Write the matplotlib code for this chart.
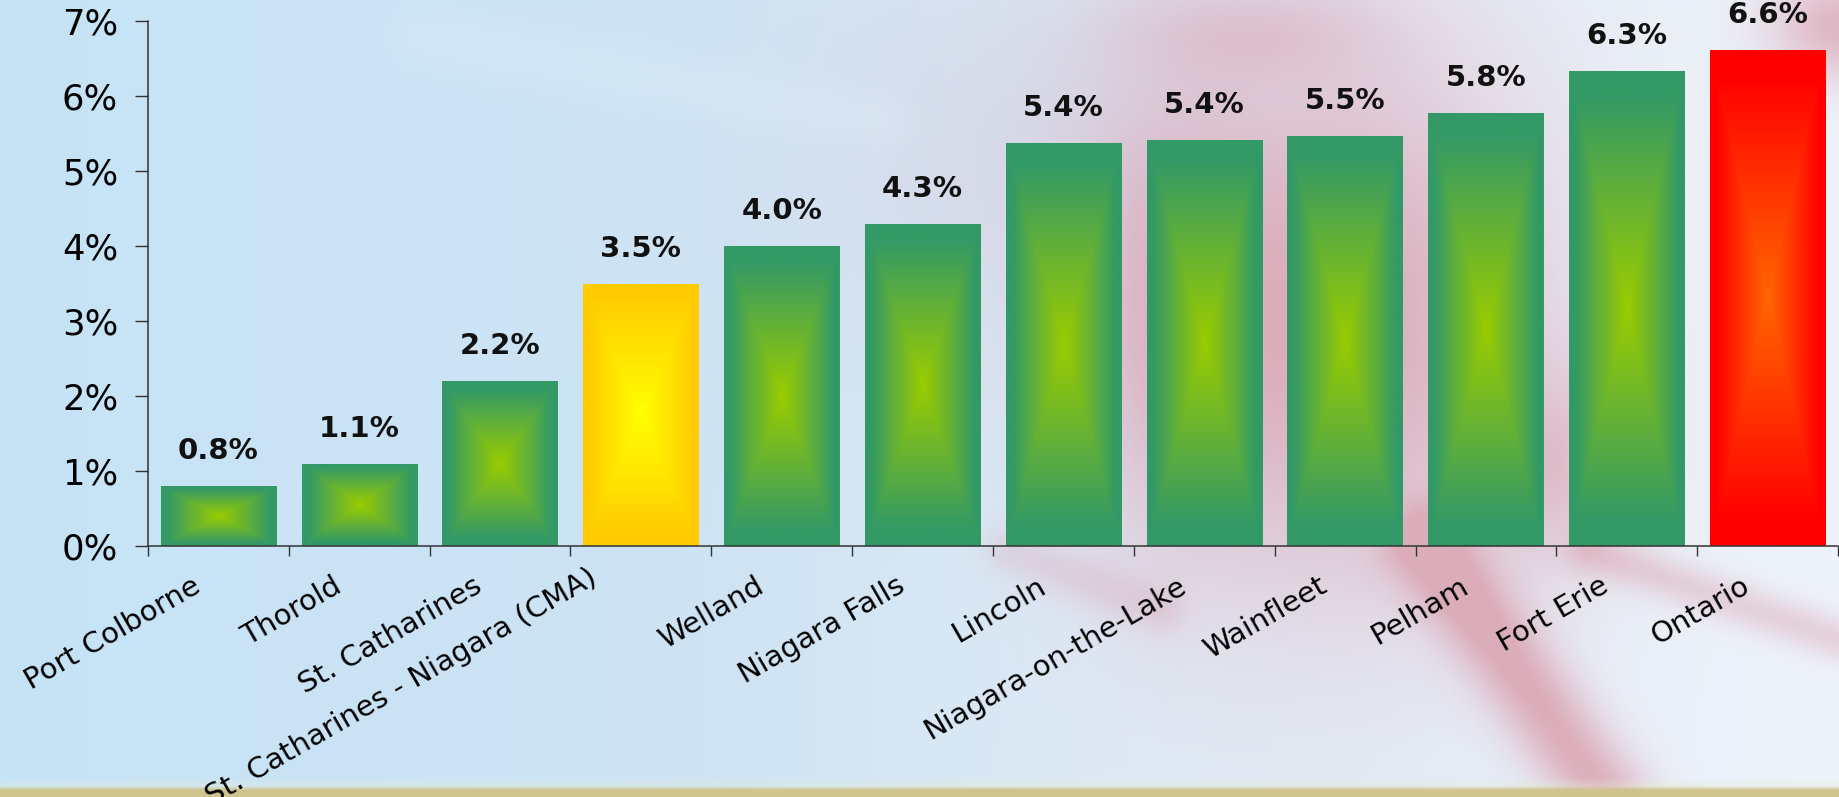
import numpy as np
import matplotlib
matplotlib.use("Agg")
import matplotlib.pyplot as plt
from matplotlib.colors import to_rgb
from matplotlib.transforms import ScaledTranslation

# ── Data ──────────────────────────────────────────────────────────────────────

regions = [
    "Port Colborne", "Thorold", "St. Catharines",
    "St. Catharines - Niagara (CMA)", "Welland", "Niagara Falls",
    "Lincoln", "Niagara-on-the-Lake", "Wainfleet", "Pelham",
    "Fort Erie", "Ontario",
]
growth_pct = [0.8, 1.1, 2.2, 3.5, 4.0, 4.3, 5.37, 5.42, 5.47, 5.78, 6.34, 6.61]
bar_kind = ["local"] * 3 + ["cma"] + ["local"] * 7 + ["province"]
y_ticks = [0, 1, 2, 3, 4, 5, 6, 7]

# centre colour, edge colour of the rectangular "from centre" fill
GRADIENTS = {
    "local":    ("#99cc00", "#339966"),
    "cma":      ("#ffff00", "#ffcc00"),
    "province": ("#ff6600", "#ff0000"),
}

W, H = 1840, 797
plt.rcParams["font.family"] = ["DejaVu Sans"]


# ── Helpers ───────────────────────────────────────────────────────────────────

def rect_gradient(c_in, c_out, n=240):
    u = np.linspace(-1, 1, n)
    U, V = np.meshgrid(u, u)
    t = np.clip(np.maximum(np.abs(U), np.abs(V)) / 0.9, 0, 1)[..., None]
    return np.array(to_rgb(c_in)) * (1 - t) + np.array(to_rgb(c_out)) * t


def background(h=400, w=920):
    X, Y = np.meshgrid(np.linspace(0, W, w), np.linspace(0, H, h))
    sx = [0, 700, 1150, 1840]
    sc = [to_rgb(c) for c in ("#c6e4f7", "#cee3f3", "#e0ebf6", "#eef3f9")]
    img = np.stack([np.interp(X, sx, [c[k] for c in sc]) for k in range(3)], -1)

    def seg(x0, y0, x1, y1, wd):
        dx, dy = x1 - x0, y1 - y0
        s = np.clip(((X - x0) * dx + (Y - y0) * dy) / (dx * dx + dy * dy), 0, 1)
        d = np.hypot(X - (x0 + s * dx), Y - (y0 + s * dy))
        return np.exp(-(d / wd) ** 2)

    def blob(cx, cy, rx, ry):
        return np.exp(-(((X - cx) / rx) ** 2 + ((Y - cy) / ry) ** 2))

    def mix(img, m, col):
        m = np.clip(m, 0, 0.95)[..., None]
        return img * (1 - m) + np.array(to_rgb(col)) * m

    # faint lavender haze and light streak top-middle
    img = mix(img, 0.6 * blob(1020, 150, 230, 200), "#d4d3e3")
    img = mix(img, 0.3 * seg(420, 35, 880, 120, 30), "#e2eff9")
    # maple-leaf shapes (washed out red)
    leaf = (0.95 * blob(1340, 320, 200, 270)
            + 0.45 * blob(1160, 300, 90, 230)
            + 0.35 * blob(1250, 30, 130, 50)
            + 0.8 * blob(1840, 25, 70, 55)
            + 0.5 * blob(1560, 470, 70, 100)
            + 0.9 * seg(1430, 548, 1605, 797, 42)
            + 0.45 * seg(1590, 552, 1840, 640, 22)
            + 0.3 * seg(1010, 552, 1160, 610, 25))
    img = mix(img, leaf, "#dba9b7")
    # tan strip along the bottom edge
    img = mix(img, np.clip((Y - 778) / 8, 0, 1) * 0.35, "#e2ecd8")
    img = mix(img, np.clip((Y - 787) / 4, 0, 1) * 0.95, "#cfc389")
    return img


# ── Figure ────────────────────────────────────────────────────────────────────

fig = plt.figure(figsize=(W / 100, H / 100), dpi=100)

bg = fig.add_axes([0, 0, 1, 1], zorder=0)
bg.imshow(background(), extent=[0, 1, 0, 1], aspect="auto", interpolation="bilinear")
bg.axis("off")

ax = fig.add_axes([148 / W, 1 - 546 / H, (1838 - 148) / W, (546 - 21) / H], zorder=1)
ax.patch.set_alpha(0)

x = np.arange(len(regions))
bars = ax.bar(x, growth_pct, width=0.82, color="none", linewidth=0, zorder=2)
for rect, kind in zip(bars, bar_kind):
    x0, y0 = rect.get_x(), rect.get_y()
    im = ax.imshow(rect_gradient(*GRADIENTS[kind]),
                   extent=(x0, x0 + rect.get_width(), y0, y0 + rect.get_height()),
                   aspect="auto", interpolation="bilinear", zorder=2)
    im.set_clip_path(rect)

ax.bar_label(bars, labels=[f"{v:.1f}%" for v in growth_pct], padding=15,
             fontsize=21, fontweight="bold", color="#111111")

ax.set_xlim(-0.5, len(regions) - 0.5)
ax.set_ylim(0, 7)
ax.set_yticks(y_ticks)
ax.set_yticklabels([f"{t}%" for t in y_ticks])
ax.tick_params(axis="y", length=9.5, width=1, pad=12, labelsize=25.5, color="#333333")

# tick marks between categories, labels drawn under the category centres
ax.set_xticks(np.arange(-0.5, len(regions), 1))
ax.set_xticklabels([])
ax.tick_params(axis="x", length=7, width=1, color="#333333")
for xi, name in zip(x, regions):
    # the very long label is nudged up-left, as in the original layout
    long_name = len(name) > 20
    dx = -0.46 if long_name else -0.20
    dy = -0.30 if long_name else -0.38
    tf = ax.get_xaxis_transform() + ScaledTranslation(dx, dy, fig.dpi_scale_trans)
    ax.text(xi, 0, name, transform=tf, rotation=30, rotation_mode="anchor",
            ha="right", va="center", fontsize=21, color="black")

for side in ("top", "right"):
    ax.spines[side].set_visible(False)
for side in ("left", "bottom"):
    ax.spines[side].set_color("#333333")
    ax.spines[side].set_linewidth(1.1)

fig.savefig("out.png", dpi=100)
